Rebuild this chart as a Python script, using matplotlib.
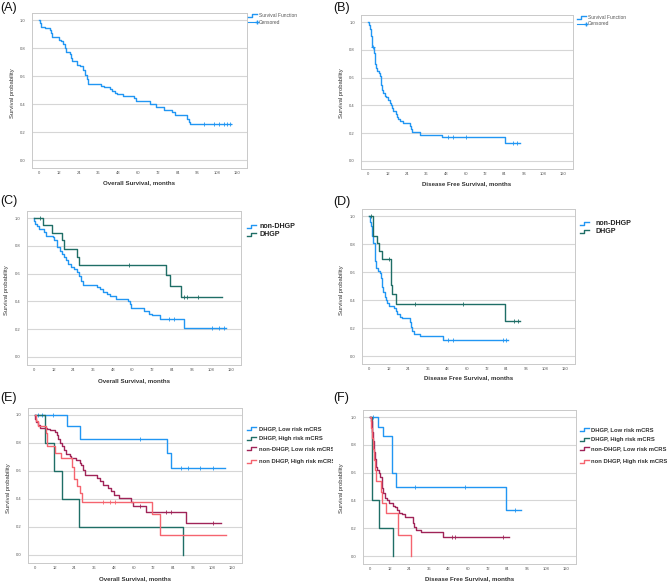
import numpy as np
import matplotlib
matplotlib.use('Agg')
import matplotlib.pyplot as plt
from matplotlib.lines import Line2D
from matplotlib.transforms import Bbox, TransformedBbox

# Figure size in pixels (dpi 100)
W, H = 667, 583

plt.rcParams['font.family'] = ['Liberation Sans', 'DejaVu Sans']

BLUE = '#2196f3'
TEAL = '#1f6e66'
MAROON = '#a02458'
SALMON = '#f5646f'

month_ticks = [0, 12, 24, 36, 48, 60, 72, 84, 96, 108, 120]
prob_ticks = [0.0, 0.2, 0.4, 0.6, 0.8, 1.0]

# (A) overall survival, all patients
a_t = [0, 0.4, 1.4, 3.4, 6.5, 7.5, 8.1, 12.2, 13.6, 14.6, 15.6, 16.6, 18.6, 19.3, 20.3,
       23.1, 24.7, 26.4, 27.8, 28.8, 29.8, 37.5, 39.5, 43, 44, 46, 47.4, 51, 57.6, 58.8,
       67.3, 70.9, 75.8, 80.9, 82.5, 89.6, 91.2, 91.6, 116.3]
a_s = [1.0, 0.98, 0.95, 0.94, 0.93, 0.91, 0.88, 0.86, 0.85, 0.83, 0.80, 0.77, 0.76, 0.73, 0.71,
       0.68, 0.67, 0.64, 0.61, 0.58, 0.545, 0.53, 0.52, 0.51, 0.49, 0.48, 0.47, 0.455, 0.44, 0.42,
       0.40, 0.38, 0.36, 0.34, 0.32, 0.29, 0.27, 0.255, 0.255]
a_cens = [99.7, 105.8, 108.9, 111.9, 113.9, 115.9]

# (B) disease free survival, all patients
b_t = [0, 0.6, 1.0, 1.6, 2.1, 2.7, 3.5, 4.0, 4.5, 5.1, 5.7, 6.6, 7.2, 7.8, 8.2, 8.6,
       9.2, 10.3, 11.3, 12.3, 13.3, 14.4, 15.0, 15.4, 17.0, 17.8, 18.5, 19.5, 21.5,
       26.0, 26.7, 27.3, 31.8, 45.5, 84.3, 93.3]
b_s = [1.0, 0.98, 0.95, 0.93, 0.90, 0.82, 0.78, 0.73, 0.70, 0.67, 0.65, 0.63, 0.61, 0.59, 0.55, 0.51,
       0.49, 0.47, 0.46, 0.44, 0.42, 0.40, 0.38, 0.36, 0.34, 0.32, 0.30, 0.29, 0.27,
       0.25, 0.23, 0.21, 0.19, 0.17, 0.13, 0.13]
b_cens = [3.0, 49.2, 52.3, 60.5, 89.2, 91.7]

# (C) overall survival by growth pattern
cn_t = [0, 0.2, 0.6, 1.6, 3.3, 6.3, 7.3, 11.4, 12.4, 13.8, 14.2, 15.9, 17.3, 18.3, 19.5,
        21.0, 22.4, 24.4, 26.4, 27.5, 28.5, 30.1, 38.2, 40.3, 42.3, 44.7, 46.4, 50.0, 57.2, 58.2,
        59.2, 67.1, 70.2, 71.8, 76.9, 91.5, 117.2]
cn_s = [1.0, 0.98, 0.96, 0.94, 0.92, 0.90, 0.87, 0.86, 0.84, 0.82, 0.79, 0.76, 0.74, 0.72, 0.70,
        0.67, 0.65, 0.63, 0.61, 0.58, 0.55, 0.52, 0.50, 0.49, 0.47, 0.45, 0.44, 0.42, 0.40, 0.38,
        0.35, 0.33, 0.31, 0.30, 0.27, 0.21, 0.21]
cn_cens = [82.0, 85.0, 108.4, 112.5, 115.5]
cd_t = [0, 5.7, 10.8, 16.9, 18.5, 26.0, 27.5, 80.5, 82.6, 89.7, 114.5]
cd_s = [1.0, 0.95, 0.89, 0.84, 0.78, 0.72, 0.66, 0.59, 0.51, 0.43, 0.43]
cd_cens = [3.7, 57.6, 91.2, 93.5, 100.0]

# (D) disease free survival by growth pattern
dn_t = [0, 0.8, 1.4, 2.0, 2.6, 3.5, 3.9, 4.5, 5.5, 6.5, 7.1, 7.9, 8.1, 8.6, 9.6,
        10.6, 11.2, 12.2, 15.3, 16.3, 17.3, 18.7, 20.2, 25.3, 25.9, 26.5, 27.3, 31.4, 45.2, 84.9]
dn_s = [1.0, 0.96, 0.93, 0.86, 0.81, 0.74, 0.68, 0.63, 0.61, 0.59, 0.56, 0.53, 0.49, 0.46, 0.42,
        0.40, 0.38, 0.36, 0.34, 0.32, 0.30, 0.28, 0.27, 0.24, 0.21, 0.18, 0.16, 0.14, 0.115, 0.115]
dn_cens = [48.3, 51.3, 81.9, 83.9]
dd_t = [0, 2.4, 5.1, 6.1, 8.1, 13.6, 14.3, 16.3, 83.1, 92.5]
dd_s = [1.0, 0.86, 0.81, 0.75, 0.69, 0.51, 0.44, 0.37, 0.25, 0.25]
dd_cens = [1.2, 12.5, 27.9, 57.4, 89.0, 91.0]

# (E) overall survival by growth pattern and mCRS
el_t = [0, 19.5, 27.2, 80.6, 83.0, 115.5]
el_s = [1.0, 0.92, 0.83, 0.73, 0.625, 0.625]
el_cens = [1.8, 4.5, 11.0, 63.7, 89.1, 93.2, 100.3, 108.4]
eh_t = [0, 6.2, 11.6, 16.7, 26.6, 89.9]
eh_s = [1.0, 0.80, 0.60, 0.40, 0.20, 0.0]
eh_cens = []
enl_t = [0, 0.2, 0.8, 1.8, 2.8, 7.3, 8.9, 12.0, 13.4, 14.0, 15.4, 16.6, 17.7, 19.1, 21.1,
         22.1, 25.2, 27.2, 28.2, 29.2, 30.7, 37.8, 39.4, 41.4, 44.5, 46.5, 48.1, 51.2, 58.7, 59.7,
         67.8, 92.2, 113.1]
enl_s = [1.0, 0.97, 0.95, 0.93, 0.91, 0.90, 0.89, 0.88, 0.86, 0.83, 0.80, 0.78, 0.75, 0.72, 0.71,
         0.69, 0.68, 0.66, 0.64, 0.61, 0.57, 0.55, 0.53, 0.50, 0.48, 0.46, 0.43, 0.41, 0.38, 0.35,
         0.31, 0.23, 0.23]
enl_cens = [63.7, 80.0, 83.0, 108.4]
enh_t = [0, 0.4, 1.8, 6.5, 7.5, 12.0, 16.0, 22.5, 23.5, 25.6, 27.2, 28.8, 71.3, 76.3, 116.5]
enh_s = [1.0, 0.96, 0.92, 0.87, 0.78, 0.73, 0.69, 0.63, 0.54, 0.49, 0.44, 0.38, 0.29, 0.145, 0.145]
enh_cens = [41.4, 45.5, 48.5]

# (F) disease free survival by growth pattern and mCRS
fl_t = [0, 4.7, 7.8, 13.3, 15.9, 83.1, 92.5]
fl_s = [1.0, 0.93, 0.86, 0.60, 0.50, 0.33, 0.33]
fl_cens = [2.0, 27.6, 58.2, 88.8]
fh_t = [0, 1.5, 5.5, 14.3]
fh_s = [1.0, 0.40, 0.20, 0.0]
fh_cens = []
fnl_t = [0, 0.4, 1.0, 1.4, 2.0, 2.4, 3.1, 3.7, 4.5, 5.5, 6.1, 7.1, 7.6, 8.2, 9.2,
         10.6, 11.8, 13.9, 15.3, 16.3, 18.0, 19.4, 21.4, 26.1, 26.9, 28.2, 31.2, 44.9, 85.1]
fnl_s = [1.0, 0.97, 0.93, 0.89, 0.83, 0.75, 0.70, 0.64, 0.62, 0.60, 0.57, 0.55, 0.49, 0.45, 0.42,
         0.40, 0.38, 0.36, 0.35, 0.33, 0.31, 0.30, 0.28, 0.24, 0.21, 0.19, 0.17, 0.14, 0.14]
fnl_cens = [50.0, 52.0, 81.6]
fnh_t = [0, 0.5, 1.2, 1.8, 2.4, 3.0, 3.5, 6.5, 7.5, 9.5, 17.4, 24.9]
fnh_s = [1.0, 0.92, 0.85, 0.77, 0.69, 0.62, 0.54, 0.46, 0.38, 0.31, 0.15, 0.0]
fnh_cens = []

os_label = 'Overall Survival, months'
dfs_label = 'Disease Free Survival, months'
group_labels = ['non-DHGP', 'DHGP']
risk_labels = ['DHGP, Low risk mCRS', 'DHGP, High risk mCRS',
               'non-DHGP, Low risk mCRS', 'non DHGP, High risk mCRS']

fig = plt.figure(figsize=(W / 100, H / 100), dpi=100)


def fx(px):
    return px / W


def fy(py):
    return 1 - py / H


def make_axes(x0, x120, y1, y0):
    # x0/x120: pixel of month 0 and 120, y1/y0: pixel of prob 1.0 and 0.0
    ppm = (x120 - x0) / 120
    ppu = y0 - y1
    left, right = x0 - 4.5 * ppm, x0 + 126 * ppm
    top, bottom = y1 - 0.05 * ppu, y0 + 0.06 * ppu
    ax = fig.add_axes([fx(left), fy(bottom), (right - left) / W, (bottom - top) / H])
    ax.set_xlim(-4.5, 126)
    ax.set_ylim(-0.06, 1.05)
    ax.set_xticks(month_ticks)
    ax.set_yticks(prob_ticks)
    ax.set_yticklabels([f"{v:.1f}" for v in prob_ticks])
    ax.tick_params(axis='both', length=0, labelsize=3.0, labelcolor='#555555')
    ax.tick_params(axis='y', pad=4.2)
    ax.tick_params(axis='x', pad=2.0)
    ax.grid(axis='y', color='#d6d6d6', lw=0.8)
    ax.set_axisbelow(True)
    for sp in ax.spines.values():
        sp.set_color('#c9c9c9')
        sp.set_linewidth(0.7)
    return ax, (left + right) / 2


def km(ax, t, s, cens, color):
    ax.step(t, s, where='post', color=color, lw=1.0)
    if len(cens):
        idx = np.searchsorted(t, cens, side='right') - 1
        ax.plot(cens, np.array(s)[idx], '+', color=color, ms=2.6, mew=0.6)


def step_icon(x, y, color):
    xs = [x, x + 4, x + 4, x + 9]
    ys = [y + 1.5, y + 1.5, y - 1.5, y - 1.5]
    fig.add_artist(Line2D([fx(v) for v in xs], [fy(v) for v in ys], color=color, lw=1.0,
                          transform=fig.transFigure))


def legend(x, tx, ys, labels, colors, size, weight, tcolor, clip_x):
    clip = TransformedBbox(Bbox.from_extents(0, 0, fx(clip_x), 1), fig.transFigure)
    for y, lab, col in zip(ys, labels, colors):
        step_icon(x, y, col)
        txt = fig.text(fx(tx), fy(y), lab, fontsize=size, fontweight=weight,
                       color=tcolor, va='center', ha='left')
        txt.set_clip_box(clip)
        txt.set_clip_on(True)


def labels(cx, xlab_y, ylab_x, ycenter, xlab):
    fig.text(fx(cx), fy(xlab_y), xlab, fontsize=4.4, fontweight='bold', color='#333333',
             ha='center', va='center')
    fig.text(fx(ylab_x), fy(ycenter), 'Survival probability', fontsize=4.2, color='#333333',
             rotation=90, ha='center', va='center')


# (A)
ax, cx = make_axes(39, 237, 20, 160)
km(ax, a_t, a_s, a_cens, BLUE)
labels(cx, 183, 12.3, 93, os_label)
legend(248, 259, [15.7], ['Survival Function'], [BLUE], 3.5, 'normal', '#555555', W)
fig.add_artist(Line2D([fx(248), fx(257)], [fy(22), fy(22)], color=BLUE, lw=0.8,
                      marker='+', markevery=[1], ms=3, transform=fig.transFigure))
fig.text(fx(259), fy(22), 'Censored', fontsize=3.5, color='#555555', va='center')

# (B)
ax, cx = make_axes(368, 563, 22, 161)
km(ax, b_t, b_s, b_cens, BLUE)
labels(cx, 184, 341, 93, dfs_label)
legend(577, 588, [17.3], ['Survival Function'], [BLUE], 3.5, 'normal', '#555555', W)
fig.add_artist(Line2D([fx(577), fx(586)], [fy(23.7), fy(23.7)], color=BLUE, lw=0.8,
                      marker='+', markevery=[1], ms=3, transform=fig.transFigure))
fig.text(fx(588), fy(23.7), 'Censored', fontsize=3.5, color='#555555', va='center')

# (C)
ax, cx = make_axes(34, 231, 218, 357)
km(ax, cn_t, cn_s, cn_cens, BLUE)
km(ax, cd_t, cd_s, cd_cens, TEAL)
labels(cx, 381, 6.7, 290, os_label)
legend(247, 259, [226, 234.3], group_labels, [BLUE, TEAL], 5.1, 'bold', '#222222', W)

# (D)
ax, cx = make_axes(369, 565, 216, 356)
km(ax, dn_t, dn_s, dn_cens, BLUE)
km(ax, dd_t, dd_s, dd_cens, TEAL)
labels(cx, 378, 342, 290, dfs_label)
legend(580, 595, [223.7, 231.7], group_labels, [BLUE, TEAL], 5.1, 'bold', '#222222', W)

# (E)
ax, cx = make_axes(35, 232, 415, 555)
km(ax, el_t, el_s, el_cens, BLUE)
km(ax, eh_t, eh_s, eh_cens, TEAL)
km(ax, enl_t, enl_s, enl_cens, MAROON)
km(ax, enh_t, enh_s, enh_cens, SALMON)
labels(cx, 579, 8.3, 488, os_label)
legend(247, 259, [428.3, 438.3, 448.3, 461], risk_labels, [BLUE, TEAL, MAROON, SALMON],
       4.2, 'bold', '#333333', 333)

# (F)
ax, cx = make_axes(370, 566, 417, 556)
km(ax, fl_t, fl_s, fl_cens, BLUE)
km(ax, fh_t, fh_s, fh_cens, TEAL)
km(ax, fnl_t, fnl_s, fnl_cens, MAROON)
km(ax, fnh_t, fnh_s, fnh_cens, SALMON)
labels(cx, 579, 342, 488, dfs_label)
legend(580, 591, [429.3, 439, 448.3, 461], risk_labels, [BLUE, TEAL, MAROON, SALMON],
       4.2, 'bold', '#333333', W)

# panel letters
for lab, x, y in [('(A)', 0, 1.5), ('(B)', 333, 1.5), ('(C)', 0, 195), ('(D)', 333, 196),
                  ('(E)', 0, 392), ('(F)', 333, 392)]:
    fig.text(fx(x), fy(y), lab, fontsize=9, color='#111111', ha='left', va='top')

plt.savefig('out.png', dpi=100)
